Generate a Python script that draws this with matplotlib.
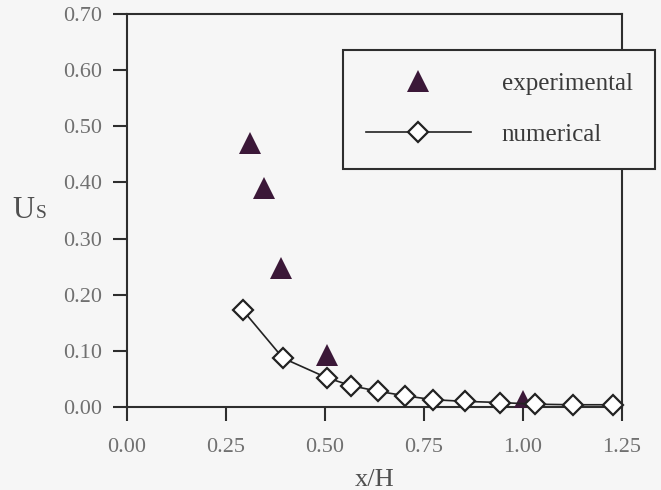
import matplotlib
matplotlib.use("Agg")
import matplotlib.pyplot as plt

# experimental points
x_exp = [0.31, 0.345, 0.39, 0.505, 1.00]
us_exp = [0.470, 0.390, 0.248, 0.093, 0.010]

# numerical solution
x_num = [0.293, 0.394, 0.505, 0.566, 0.634, 0.702, 0.773, 0.854, 0.942, 1.03, 1.126, 1.227]
us_num = [0.172, 0.087, 0.052, 0.038, 0.028, 0.020, 0.013, 0.010, 0.008, 0.005, 0.004, 0.004]

xticks = [0.0, 0.25, 0.5, 0.75, 1.0, 1.25]
yticks = [0.0, 0.1, 0.2, 0.3, 0.4, 0.5, 0.6, 0.7]

bg = "#f6f6f6"
ink = "#2e2e2e"
plt.rcParams["font.family"] = ["Liberation Serif", "DejaVu Serif"]

fig = plt.figure(figsize=(6.61, 4.90), dpi=100, facecolor=bg)
ax = fig.add_axes([127 / 661, 1 - 407 / 490, 495 / 661, 393 / 490], facecolor=bg)

ax.plot(x_exp, us_exp, linestyle="none", marker="^", markersize=16,
        color="#3b1838", markeredgewidth=0, label="experimental", zorder=3)
ax.plot(x_num, us_num, color="#222222", linewidth=1.2, marker="D", markersize=10.5,
        markerfacecolor="white", markeredgecolor="#222222", markeredgewidth=1.6,
        label="numerical", zorder=4, clip_on=False)

ax.set_xlim(0, 1.25)
ax.set_ylim(0, 0.70)
ax.set_xticks(xticks)
ax.set_yticks(yticks)
ax.set_xticklabels([f"{v:.2f}" for v in xticks])
ax.set_yticklabels([f"{v:.2f}" for v in yticks])
ax.tick_params(direction="out", length=10, width=1.5, color=ink,
               labelsize=16, labelcolor="#707070")
ax.tick_params(axis="x", pad=12)
ax.tick_params(axis="y", pad=8)
for s in ax.spines.values():
    s.set_linewidth(1.5)
    s.set_color(ink)

ax.set_xlabel("x/H", fontsize=19, color="#505050", labelpad=9)
fig.text(12 / 661, 1 - 218 / 490, "U", fontsize=22, color="#505050", ha="left", va="baseline")
fig.text(36 / 661, 1 - 218 / 490, "S", fontsize=14, color="#505050", ha="left", va="baseline")

leg = ax.legend(loc="upper left", bbox_to_anchor=(343 / 661, 1 - 50 / 490),
                bbox_transform=fig.transFigure, fontsize=18, frameon=True,
                fancybox=False, handlelength=4.2, handletextpad=1.25,
                labelspacing=1.15, borderpad=0.9, borderaxespad=0,
                labelcolor="#3a3a3a")
frame = leg.get_frame()
frame.set_edgecolor(ink)
frame.set_linewidth(1.5)
frame.set_facecolor(bg)
frame.set_alpha(1)

fig.savefig("out.png", dpi=100, facecolor=bg)
